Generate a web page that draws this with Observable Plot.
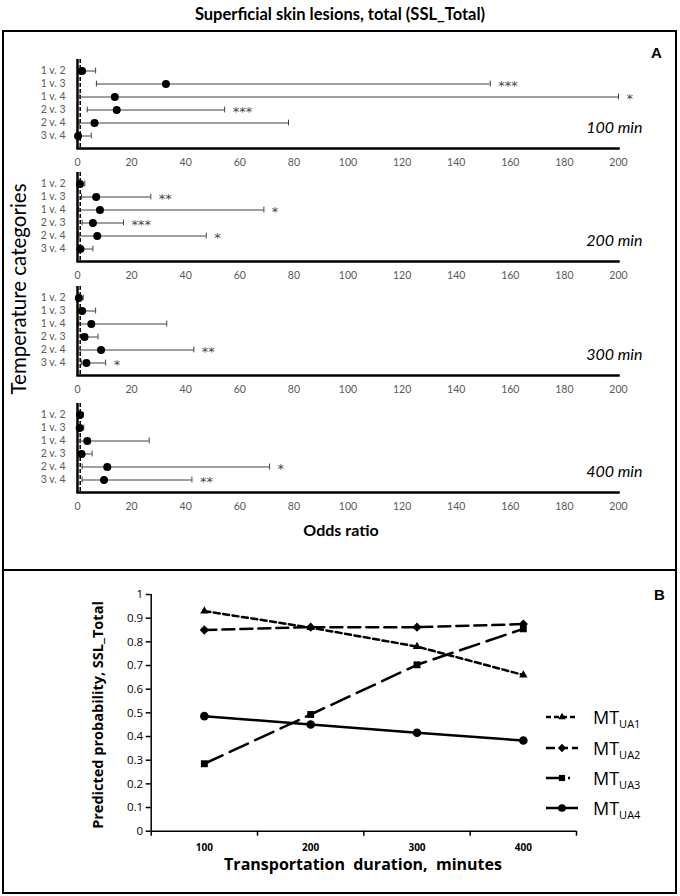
<!DOCTYPE html>
<html><head><meta charset="utf-8">
<script src="https://cdn.jsdelivr.net/npm/d3@7"></script>
<script src="https://cdn.jsdelivr.net/npm/@observablehq/plot@0.6"></script>
<style>
body{margin:0;background:#fff;}
#root{position:relative;width:680px;height:896px;overflow:hidden;font-family:Lato,sans-serif;color:#000;}
.abs{position:absolute;white-space:pre;}
.box{position:absolute;box-sizing:border-box;border:2px solid #000;}
</style></head><body><div id="root"></div>
<script>
// ---------- Panel A data ----------
const categories = ["1 v. 2","1 v. 3","1 v. 4","2 v. 3","2 v. 4","3 v. 4"];
const durationLabels = ["100 min","200 min","300 min","400 min"];
const oddsEstimate = [
  [1.7, 32.7, 13.8, 14.5, 6.3, 0.2],
  [0.9, 6.9, 8.3, 5.7, 7.3, 1.1],
  [0.5, 1.7, 5.1, 2.6, 8.7, 3.3],
  [0.9, 0.8, 3.6, 1.5, 11.0, 9.8]
];
const oddsLower = [
  [0.3, 7.0, 0.9, 3.6, 0.6, 0.02],
  [0.3, 1.5, 0.5, 1.7, 0.5, 0.3],
  [0.1, 0.8, 0.5, 1.4, 1.0, 1.4],
  [0.3, 0.3, 1.0, 0.7, 1.7, 1.7]
];
const oddsUpper = [
  [6.7, 152.6, 200, 54.4, 78, 5.1],
  [2.7, 27.1, 68.9, 17.0, 47.6, 5.7],
  [2.1, 6.7, 33.0, 7.6, 43.0, 10.4],
  [2.1, 2.3, 26.5, 5.4, 71.0, 42.3]
];
const significance = [
  ["", "***", "*", "***", "", ""],
  ["", "**", "*", "***", "*", ""],
  ["", "", "", "", "**", "*"],
  ["", "", "", "", "*", "**"]
];
const oddsTicks = [0,20,40,60,80,100,120,140,160,180,200];

// ---------- Panel B data ----------
const durations = [100, 200, 300, 400];
const seriesNames = ["UA1", "UA2", "UA3", "UA4"];
const probUA1 = [0.93, 0.86, 0.78, 0.66];
const probUA2 = [0.85, 0.862, 0.862, 0.875];
const probUA3 = [0.285, 0.493, 0.703, 0.855];
const probUA4 = [0.486, 0.451, 0.416, 0.383];
const probTicks = [0, 0.1, 0.2, 0.3, 0.4, 0.5, 0.6, 0.7, 0.8, 0.9, 1];
const bandEdges = [50, 150, 250, 350, 450];

const root = document.getElementById("root");
function addDiv(html, css, cls="abs"){ const d=document.createElement("div"); d.className=cls; d.innerHTML=html; Object.assign(d.style, css); root.appendChild(d); return d; }

// frames
addDiv("", {left:"2px", top:"30px", width:"675px", height:"541px"}, "box");
addDiv("", {left:"2px", top:"569px", width:"675px", height:"325px"}, "box");

addDiv("Superficial skin lesions, total (SSL_Total)", {left:"0px", width:"680px", top:"4px", textAlign:"center", fontWeight:"bold", fontSize:"16.5px", lineHeight:"20px", fontFamily:"Lato"});
addDiv("A", {left:"651px", top:"44px", fontWeight:"bold", fontSize:"15px", lineHeight:"18px", fontFamily:"Liberation Sans"});
addDiv("B", {left:"654px", top:"586px", fontWeight:"bold", fontSize:"15px", lineHeight:"18px", fontFamily:"Liberation Sans"});

// ---------- Panel A subplots ----------
const tops = [56, 168.5, 282.7, 400.3];
durationLabels.forEach((lab, k) => {
  const rows = categories.map((c, i) => ({cat: c, est: oddsEstimate[k][i], lo: oddsLower[k][i], hi: oddsUpper[k][i], sig: significance[k][i]}));
  const svg = Plot.plot({
    width: 680, height: 114,
    marginLeft: 77, marginRight: 62, marginTop: 3, marginBottom: 22,
    style: {fontFamily: "Lato", fontSize: "10.5px", background: "transparent", overflow: "visible", color: "#000"},
    x: {domain: [0, 200]},
    y: {type: "band", domain: categories, range: [7.4, 86.6], padding: 0},
    marks: [
      Plot.axisX({ticks: oddsTicks, tickSize: 0, tickPadding: 10, fill: "#595959", label: null}),
      Plot.axisY({tickSize: 0, tickPadding: 12, fill: "#595959", label: null}),
      Plot.ruleX([1], {stroke: "#000", strokeWidth: 1.5, strokeDasharray: "4,2"}),
      Plot.ruleY(rows, {y: "cat", x1: "lo", x2: "hi", stroke: "#404040", strokeWidth: 1}),
      Plot.tickX(rows, {x: "hi", y: "cat", stroke: "#404040", strokeWidth: 1, insetTop: 3.6, insetBottom: 3.6}),
      Plot.tickX(rows, {x: "lo", y: "cat", stroke: "#404040", strokeWidth: 1, insetTop: 3.6, insetBottom: 3.6}),
      Plot.ruleX([0], {stroke: "#000", strokeWidth: 2.5}),
      Plot.frame({anchor: "bottom", stroke: "#000", strokeWidth: 2.5}),
      Plot.dot(rows, {x: "est", y: "cat", r: 4, fill: "#000"}),
      Plot.text(rows, {x: "hi", y: "cat", text: "sig", textAnchor: "start", dx: 8, dy: 2, fontSize: 13, fontFamily: "DejaVu Sans", fill: "#444"}),
      Plot.text([lab], {frameAnchor: "bottom-right", text: d => d, textAnchor: "end", dx: 24, dy: -16, fontSize: 16, fontStyle: "italic", fill: "#000"})
    ]
  });
  svg.style.position = "absolute"; svg.style.left = "0px"; svg.style.top = tops[k] + "px";
  root.appendChild(svg);
});

addDiv("Odds ratio", {left:"0px", width:"682px", top:"520px", textAlign:"center", fontWeight:"bold", fontSize:"16px", lineHeight:"20px"});
addDiv("Temperature categories", {left:"18px", top:"289px", transform:"translate(-50%,-50%) rotate(-90deg)", fontSize:"20.5px", lineHeight:"24px"});

// ---------- Panel B ----------
const seriesValues = [probUA1, probUA2, probUA3, probUA4];
const dashes = ["6,3.5", "12,6", "20,8", null];
const symbols = ["triangle", d3.symbolDiamond2, "square", "circle"];
const sizes = [3.1, 4.2, 3.9, 4.3];
const marksB = [
  Plot.ruleX([50], {stroke: "#000", strokeWidth: 1.5}),
  Plot.ruleY([0], {stroke: "#000", strokeWidth: 1.5}),
  Plot.axisY({ticks: probTicks, tickSize: 5, tickPadding: 3, tickFormat: d => String(d), fontSize: 11.5, strokeWidth: 1.5, label: null}),
  Plot.axisX({ticks: bandEdges, tickSize: 5, tickFormat: () => "", strokeWidth: 1.5, label: null}),
  Plot.axisX({ticks: durations, tickSize: 0, tickPadding: 13, fontSize: 10, fontWeight: "bold", label: null})
];
seriesValues.forEach((vals, s) => {
  const pts = durations.map((d, i) => ({x: d, y: vals[i]}));
  marksB.push(Plot.line(pts, {x: "x", y: "y", stroke: "#000", strokeWidth: 2.5, strokeDasharray: dashes[s] || undefined}));
  marksB.push(Plot.dot(pts, {x: "x", y: "y", symbol: symbols[s], r: sizes[s], fill: "#000", stroke: "none"}));
});
const svgB = Plot.plot({
  width: 680, height: 322,
  marginLeft: 150.7, marginRight: 104, marginTop: 24, marginBottom: 61.3,
  style: {fontFamily: "Open Sans", fontSize: "11px", background: "transparent", overflow: "visible", color: "#000"},
  x: {domain: [50, 450]},
  y: {domain: [0, 1]},
  marks: marksB
});
svgB.style.position = "absolute"; svgB.style.left = "0px"; svgB.style.top = "570px";
root.appendChild(svgB);

addDiv("Predicted probability, SSL_Total", {left:"98px", top:"715px", transform:"translate(-50%,-50%) rotate(-90deg)", fontFamily:"Open Sans", fontWeight:"bold", fontSize:"14.5px", lineHeight:"16px"});
addDiv("Transportation  duration,  minutes", {left:"363px", top:"864px", transform:"translate(-50%,-50%)", fontFamily:"Open Sans", fontWeight:"bold", fontSize:"16px", lineHeight:"16px"});

// legend
const legY = [716.7, 748, 778, 808];
const legendSym = [d3.symbolTriangle, d3.symbolDiamond2, d3.symbolSquare, d3.symbolCircle];
const legDash = ["5,3", "9,4", "14,8,2,40", ""];
seriesNames.forEach((nm, s) => {
  const sz = sizes[s] * sizes[s] * Math.PI * 0.8;
  const path = d3.symbol(legendSym[s], sz)();
  const svg = `<svg width="34" height="14" style="position:absolute;left:546px;top:${legY[s]-7}px;overflow:visible">
    <line x1="0" y1="7" x2="32" y2="7" stroke="#000" stroke-width="2.5" ${legDash[s] ? `stroke-dasharray="${legDash[s]}"` : ""}/>
    <path d="${path}" transform="translate(16,7)" fill="#000"/></svg>`;
  addDiv(svg, {left:"0px", top:"0px"});
  addDiv(`MT<span style="font-size:11px;position:relative;top:4px">${nm}</span>`, {left:"593px", top:(legY[s]-12)+"px", fontFamily:"Open Sans", fontSize:"18px", lineHeight:"24px"});
});
</script></body></html>
